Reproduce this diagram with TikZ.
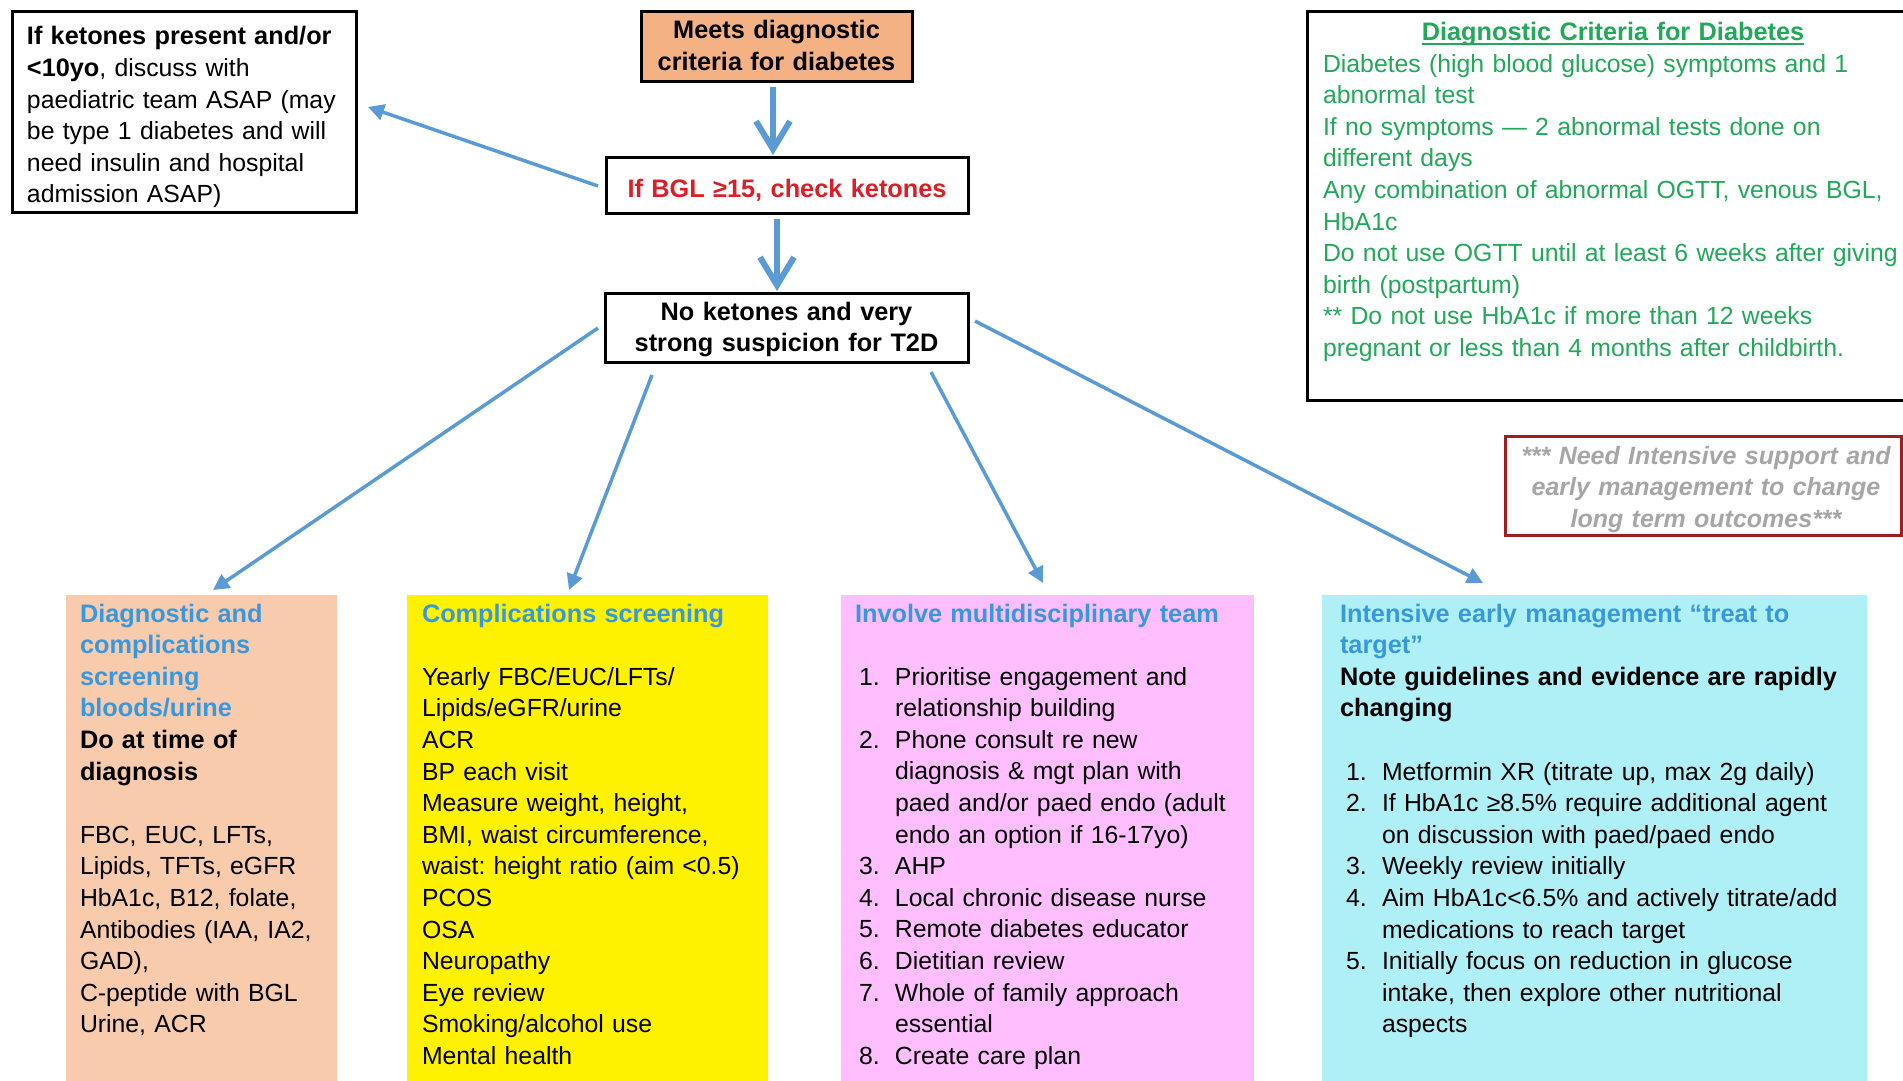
\documentclass[tikz,border=0pt]{standalone}
\usepackage{fontspec}
\setmainfont{Liberation Sans}
\usetikzlibrary{arrows.meta,calc}
\frenchspacing
\definecolor{arrowblue}{HTML}{5B9BD5}
\definecolor{meetsfill}{HTML}{F4B183}
\definecolor{peach}{HTML}{F8CBAD}
\definecolor{pinkfill}{HTML}{FFBFFF}
\definecolor{cyanfill}{HTML}{AFF0F6}
\definecolor{titleblue}{HTML}{3898DE}
\definecolor{critgreen}{HTML}{22A85A}
\definecolor{bglred}{HTML}{DC1E28}
\definecolor{notegray}{HTML}{A6A6A6}
\definecolor{notered}{HTML}{A01E1E}
\newcommand\bodyfont{\fontsize{24.8pt}{31.6pt}\selectfont}
\newcommand\boldfont{\fontsize{25.3pt}{31.6pt}\selectfont\bfseries}
\newcommand\notefont{\fontsize{25pt}{31.6pt}\selectfont}
\newcommand\tb[1]{{\boldfont #1}}
\newcommand\fl{\rule{0pt}{23pt}}
\newcommand\itemno[1]{\makebox[36pt][l]{#1}}
\newcommand\listind{\hspace*{36pt}}
\newsavebox\myulbox
\newcommand\myul[1]{\sbox\myulbox{#1}\rlap{\rule[-4pt]{\wd\myulbox}{2pt}}\usebox\myulbox}
\begin{document}
\begin{tikzpicture}[x=1pt,y=-1pt,
  blackbox/.style={draw=black, line width=3pt, inner sep=0pt, outer sep=0pt, anchor=north west},
  colbox/.style={draw=none, inner sep=0pt, outer sep=0pt, anchor=north west},
  txt/.style={inner sep=0pt, outer sep=0pt, anchor=north west, align=left, font=\bodyfont},
  ctxt/.style={inner sep=0pt, outer sep=0pt, anchor=north, align=center, font=\boldfont},
  bigarrow/.style={draw=arrowblue, line width=6pt, -{Straight Barb[length=28pt,width=34pt]}},
  diagarrow/.style={draw=arrowblue, line width=3.5pt, -{Triangle[length=16pt,width=16pt]}}]
\useasboundingbox (0,0) rectangle (1903,1081);
\fill[white] (0,0) rectangle (1903,1081);
\clip (0,0) rectangle (1903,1081);

% boxes
\node[blackbox, minimum width=344pt, minimum height=200pt] (ped) at (12,12) {};
\node[blackbox, fill=meetsfill, minimum width=271pt, minimum height=69pt] (meets) at (641,12) {};
\node[blackbox, minimum width=362pt, minimum height=56pt] (bgl) at (606,157) {};
\node[blackbox, minimum width=363pt, minimum height=69pt] (nok) at (605,293) {};
\node[blackbox, minimum width=599pt, minimum height=388pt] (crit) at (1307,12) {};
\node[blackbox, draw=notered, minimum width=396pt, minimum height=99pt] (note) at (1505,436) {};
\node[colbox, fill=peach, minimum width=271pt, minimum height=486pt] (b1) at (66,595) {};
\node[colbox, fill=yellow, minimum width=361pt, minimum height=486pt] (b2) at (407,595) {};
\node[colbox, fill=pinkfill, minimum width=413pt, minimum height=486pt] (b3) at (841,595) {};
\node[colbox, fill=cyanfill, minimum width=545pt, minimum height=486pt] (b4) at (1322,595) {};

% texts
\node[txt, text width=335pt] (pedtext) at (27,22) {\fl\tb{If ketones present and/or}\\ \tb{<10yo}, discuss with\\ paediatric team ASAP (may\\ be type 1 diabetes and will\\ need insulin and hospital\\ admission ASAP)};
\node[ctxt, text width=320pt] (meetstext) at (776.5,16) {\fl Meets diagnostic\\ criteria for diabetes};
\node[ctxt, text width=360pt, text=bglred] (bgltext) at (787,174) {\fl If BGL ≥15, check ketones};
\node[ctxt, text width=360pt] (noktext) at (786.5,297) {\fl No ketones and very\\ strong suspicion for T2D};
\node[ctxt, text width=500pt, text=critgreen] (crittitle) at (1613,17.6) {\fl\myul{Diagnostic Criteria for Diabetes}};
\node[txt, text width=600pt, text=critgreen] (critbody) at (1323,49) {\fl Diabetes (high blood glucose) symptoms and 1\\ abnormal test\\ If no symptoms — 2 abnormal tests done on\\ different days\\ Any combination of abnormal OGTT, venous BGL,\\ HbA1c\\ Do not use OGTT until at least 6 weeks after giving\\ birth (postpartum)\\ \relax** Do not use HbA1c if more than 12 weeks\\ pregnant or less than 4 months after childbirth.};
\node[ctxt, text width=420pt, font=\notefont\bfseries\itshape, text=notegray] (notetext) at (1706,441) {\fl *** Need Intensive support and\\ early management to change\\ long term outcomes***};

\node[txt, text width=255pt] (b1text) at (80,599) {\fl\textcolor{titleblue}{\tb{Diagnostic and}}\\ \textcolor{titleblue}{\tb{complications}}\\ \textcolor{titleblue}{\tb{screening}}\\ \textcolor{titleblue}{\tb{bloods/urine}}\\ \tb{Do at time of}\\ \tb{diagnosis}\\[31.6pt] FBC, EUC, LFTs,\\ Lipids, TFTs, eGFR\\ HbA1c, B12, folate,\\ Antibodies (IAA, IA2,\\ GAD),\\ C-peptide with BGL\\ Urine, ACR};
\node[txt, text width=345pt] (b2text) at (422,599) {\fl\textcolor{titleblue}{\tb{Complications screening}}\\[31.6pt] Yearly FBC/EUC/LFTs/\\ Lipids/eGFR/urine\\ ACR\\ BP each visit\\ Measure weight, height,\\ BMI, waist circumference,\\ waist: height ratio (aim <0.5)\\ PCOS\\ OSA\\ Neuropathy\\ Eye review\\ Smoking/alcohol use\\ Mental health};
\node[txt, text width=395pt] (b3title) at (855,599) {\fl\textcolor{titleblue}{\tb{Involve multidisciplinary team}}};
\node[txt, text width=395pt] (b3list) at (859,662) {\fl\itemno{1.}Prioritise engagement and\\ \listind relationship building\\ \itemno{2.}Phone consult re new\\ \listind diagnosis \& mgt plan with\\ \listind paed and/or paed endo (adult\\ \listind endo an option if 16-17yo)\\ \itemno{3.}AHP\\ \itemno{4.}Local chronic disease nurse\\ \itemno{5.}Remote diabetes educator\\ \itemno{6.}Dietitian review\\ \itemno{7.}Whole of family approach\\ \listind essential\\ \itemno{8.}Create care plan};
\node[txt, text width=560pt] (b4title) at (1340,599) {\fl\textcolor{titleblue}{\tb{Intensive early management “treat to}}\\ \textcolor{titleblue}{\tb{target”}}\\ \tb{Note guidelines and evidence are rapidly}\\ \tb{changing}};
\node[txt, text width=560pt] (b4list) at (1346,757) {\fl\itemno{1.}Metformin XR (titrate up, max 2g daily)\\ \itemno{2.}If HbA1c ≥8.5\% require additional agent\\ \listind on discussion with paed/paed endo\\ \itemno{3.}Weekly review initially\\ \itemno{4.}Aim HbA1c<6.5\% and actively titrate/add\\ \listind medications to reach target\\ \itemno{5.}Initially focus on reduction in glucose\\ \listind intake, then explore other nutritional\\ \listind aspects};

% connectors
\draw[bigarrow] ($(meets.south)+(-3.5,6)$) -- ($(bgl.north)+(-14,-2)$);
\draw[bigarrow] ($(bgl.south)+(-10,6)$) -- ($(nok.north)+(-9.5,-2)$);
\draw[diagarrow] ($(bgl.west)+(-8,1)$) -- ($(ped.east)+(12,-5)$);
\draw[diagarrow] ($(nok.west)+(-7,0.5)$) -- ($(b1.north)+(11.5,-5)$);
\draw[diagarrow] ($(nok.south west)+(47,13)$) -- ($(b2.north)+(-18.5,-5)$);
\draw[diagarrow] ($(nok.south east)+(-37,10)$) -- ($(b3.north)+(-4.5,-12)$);
\draw[diagarrow] ($(nok.east)+(7,-6.5)$) -- ($(b4.north)+(-111.5,-12)$);
\end{tikzpicture}
\end{document}
